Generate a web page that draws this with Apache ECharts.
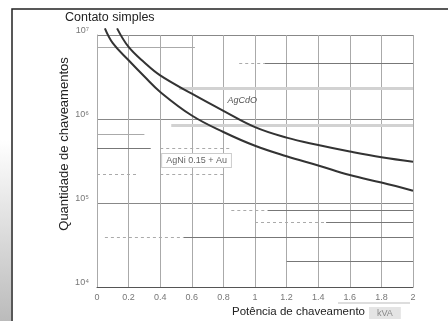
<!DOCTYPE html>
<html>
<head>
<meta charset="utf-8">
<script src="https://cdn.jsdelivr.net/npm/echarts@6/dist/echarts.min.js"></script>
<style>
html, body { margin: 0; padding: 0; background: #fff; }
#chart { width: 448px; height: 321px; }
</style>
</head>
<body>
<div id="chart"></div>
<script>
// curvas de vida elétrica (potência kVA x quantidade de chaveamentos)
var upperX = [0.127, 0.2, 0.3, 0.4, 0.6, 0.8, 1.0, 1.2, 1.4, 1.6, 1.8, 2.0];
var upperN = [1.2e7, 7.2e6, 4.7e6, 3.3e6, 2.0e6, 1.25e6, 8.0e5, 6.0e5, 4.9e5, 4.1e5, 3.5e5, 3.1e5];
var lowerX = [0.05, 0.1, 0.2, 0.3, 0.4, 0.6, 0.8, 1.0, 1.2, 1.4, 1.6, 1.8, 2.0];
var lowerN = [1.2e7, 8.0e6, 5.0e6, 3.2e6, 2.1e6, 1.1e6, 7.0e5, 4.8e5, 3.6e5, 2.8e5, 2.15e5, 1.75e5, 1.4e5];
var curveNames = ['AgCdO', 'AgNi 0.15 + Au'];

// linhas horizontais do gráfico original: [valor, x inicial, x final]
var darkRules = [[4.6e6, 1.06, 2], [4.5e5, 0, 0.34], [8.3e4, 1.08, 2], [5.9e4, 1.45, 2], [3.9e4, 0.55, 2], [2.0e4, 1.2, 2]];
var greyRules = [[7.2e6, 0, 0.62], [6.5e5, 0, 0.3]];
var thickRules = [[2.34e6, 0.52, 2], [8.5e5, 0.47, 2]];
var dashedRules = [[4.6e6, 0.9, 1.06], [4.5e5, 0.4, 0.85], [2.2e5, 0, 0.25], [2.2e5, 0.4, 0.8],
                   [8.3e4, 0.85, 1.08], [5.9e4, 1.0, 1.45], [3.9e4, 0.05, 0.55]];

var expLabels = {'10000': '10⁴', '100000': '10⁵', '1000000': '10⁶', '10000000': '10⁷'};

function pairs(xs, ys) {
    var out = [];
    for (var i = 0; i < xs.length; i++) out.push([xs[i], ys[i]]);
    return out;
}
function rules(list) {
    return list.map(function (r) {
        return { coords: [[r[1], r[0]], [r[2], r[0]]] };
    });
}
function ruleSeries(list, color, width, type) {
    return {
        type: 'lines',
        coordinateSystem: 'cartesian2d',
        silent: true,
        z: 1,
        lineStyle: { color: color, width: width, type: type, opacity: 1 },
        data: rules(list)
    };
}

var chart = echarts.init(document.getElementById('chart'));

var option = {
    animation: false,
    backgroundColor: '#fff',
    textStyle: { fontFamily: 'Liberation Sans, Arial, sans-serif' },
    grid: { left: 97, right: 35, top: 35, bottom: 34 },
    xAxis: {
        type: 'value',
        min: 0,
        max: 2,
        interval: 0.2,
        axisLine: { show: true, lineStyle: { color: '#555', width: 1 } },
        axisTick: { show: false },
        axisLabel: {
            color: '#777',
            fontSize: 9,
            margin: 6,
            formatter: function (v) { return String(Number(v.toFixed(1))); }
        },
        splitLine: { show: true, lineStyle: { color: '#aaa', width: 1 } }
    },
    yAxis: {
        type: 'log',
        logBase: 10,
        min: 1e4,
        max: 1e7,
        axisLine: { show: true, lineStyle: { color: '#aaa' } },
        axisTick: { show: false },
        axisLabel: {
            color: '#777',
            fontSize: 9,
            margin: 8,
            verticalAlign: 'bottom',
            formatter: function (v) { return expLabels[String(Math.round(v))] || ''; }
        },
        splitLine: { show: true, lineStyle: { color: '#888', width: 1 } }
    },
    graphic: [
        {
            type: 'rect', silent: true, z: -1,
            shape: { x: 0, y: 140, width: 11, height: 181 },
            style: {
                fill: new echarts.graphic.LinearGradient(0, 0, 0, 1, [
                    { offset: 0, color: '#fff' }, { offset: 1, color: '#bbb' }
                ])
            }
        },
        {
            type: 'polyline', silent: true,
            shape: { points: [[12, 321], [12, 9], [448, 9]] },
            style: { stroke: '#222', lineWidth: 1.5, fill: null }
        },
        {
            type: 'text', left: 65, top: 11,
            style: { text: 'Contato simples', fontSize: 12.5, fill: '#222', fontFamily: 'Liberation Sans, Arial, sans-serif' }
        },
        {
            type: 'text', x: 64, y: 144, rotation: Math.PI / 2,
            style: { text: 'Quantidade de chaveamentos', fontSize: 13, fill: '#222', align: 'center', verticalAlign: 'middle', fontFamily: 'Liberation Sans, Arial, sans-serif' }
        },
        {
            type: 'text', left: 232, top: 306,
            style: { text: 'Potência de chaveamento', fontSize: 11.5, fill: '#222', fontFamily: 'Liberation Sans, Arial, sans-serif' }
        },
        {
            type: 'text', left: 369, top: 307,
            style: { text: 'kVA', fontSize: 9, fill: '#888', backgroundColor: '#e4e4e4', padding: [2, 8, 1, 8] }
        },
        {
            type: 'line', silent: true,
            shape: { x1: 338, y1: 303, x2: 410, y2: 303 },
            style: { stroke: '#bbb', lineWidth: 1 }
        }
    ],
    series: [
        ruleSeries(thickRules, '#d2d2d2', 3, 'solid'),
        ruleSeries(greyRules, '#aaa', 1, 'solid'),
        ruleSeries(darkRules, '#777', 1, 'solid'),
        ruleSeries(dashedRules, '#aaa', 1, [3, 3]),
        {
            name: curveNames[0],
            type: 'line',
            data: pairs(upperX, upperN),
            smooth: 0.4,
            clip: false,
            showSymbol: false,
            z: 5,
            lineStyle: { color: '#333', width: 2 },
            markPoint: {
                symbol: 'circle',
                symbolSize: 0,
                data: [{ coord: [0.92, 1.68e6] }],
                label: {
                    show: true,
                    formatter: curveNames[0],
                    fontSize: 9,
                    fontStyle: 'italic',
                    color: '#555'
                }
            }
        },
        {
            name: curveNames[1],
            type: 'line',
            data: pairs(lowerX, lowerN),
            smooth: 0.4,
            clip: false,
            showSymbol: false,
            z: 5,
            lineStyle: { color: '#333', width: 2 },
            markPoint: {
                symbol: 'circle',
                symbolSize: 0,
                data: [{ coord: [0.63, 3.2e5] }],
                label: {
                    show: true,
                    formatter: curveNames[1],
                    fontSize: 9,
                    color: '#666',
                    backgroundColor: '#fff',
                    borderColor: '#ccc',
                    borderWidth: 1,
                    padding: [2, 4]
                }
            }
        }
    ]
};

chart.setOption(option);
</script>
</body>
</html>
